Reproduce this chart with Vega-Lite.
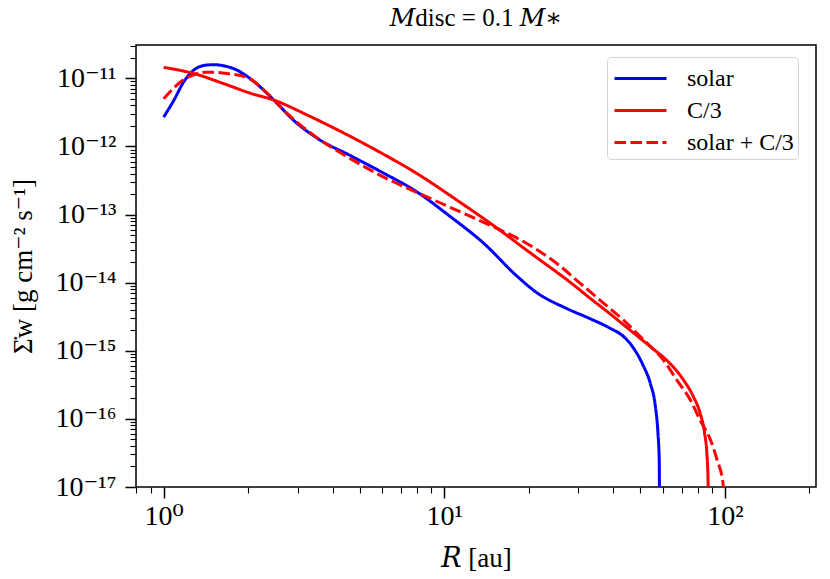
{
  "$schema": "https://vega.github.io/schema/vega-lite/v6.json",
  "autosize": "none",
  "width": 680,
  "height": 442,
  "padding": {"left": 136, "top": 45, "right": 14, "bottom": 92},
  "background": "white",
  "title": {
    "text": "𝑀disc = 0.1 𝑀∗",
    "font": "Liberation Serif, DejaVu Serif",
    "fontSize": 25,
    "fontWeight": "normal",
    "color": "black",
    "anchor": "middle",
    "frame": "group",
    "baseline": "alphabetic",
    "offset": 0,
    "dy": 19
  },
  "config": {
    "view": {"stroke": "black", "strokeWidth": 1.5},
    "axis": {
      "labelFont": "Liberation Serif, DejaVu Serif",
      "titleFont": "Liberation Serif, DejaVu Serif",
      "labelColor": "black",
      "titleColor": "black",
      "titleFontWeight": "normal",
      "grid": false,
      "domain": false,
      "tickColor": "black",
      "labelOverlap": false,
      "labelFlush": false,
      "labelBound": false
    }
  },
  "data": {
    "values": [
      {"series": "solar", "R": 1.0, "logS": -11.57},
      {"series": "solar", "R": 1.088, "logS": -11.32},
      {"series": "solar", "R": 1.18, "logS": -11.05},
      {"series": "solar", "R": 1.28, "logS": -10.88},
      {"series": "solar", "R": 1.4, "logS": -10.81},
      {"series": "solar", "R": 1.51, "logS": -10.8},
      {"series": "solar", "R": 1.65, "logS": -10.82},
      {"series": "solar", "R": 1.78, "logS": -10.86},
      {"series": "solar", "R": 2.1, "logS": -11.05},
      {"series": "solar", "R": 2.47, "logS": -11.32},
      {"series": "solar", "R": 2.91, "logS": -11.62},
      {"series": "solar", "R": 3.62, "logS": -11.91},
      {"series": "solar", "R": 4.55, "logS": -12.12},
      {"series": "solar", "R": 6.0, "logS": -12.38},
      {"series": "solar", "R": 8.0, "logS": -12.67},
      {"series": "solar", "R": 10.5, "logS": -13.03},
      {"series": "solar", "R": 13.8, "logS": -13.42},
      {"series": "solar", "R": 18.1, "logS": -13.9},
      {"series": "solar", "R": 21.4, "logS": -14.15},
      {"series": "solar", "R": 27.3, "logS": -14.38},
      {"series": "solar", "R": 33.1, "logS": -14.53},
      {"series": "solar", "R": 39.0, "logS": -14.67},
      {"series": "solar", "R": 43.5, "logS": -14.79},
      {"series": "solar", "R": 47.2, "logS": -14.96},
      {"series": "solar", "R": 51.3, "logS": -15.23},
      {"series": "solar", "R": 54.2, "logS": -15.48},
      {"series": "solar", "R": 56.5, "logS": -15.82},
      {"series": "solar", "R": 57.7, "logS": -16.21},
      {"series": "solar", "R": 58.3, "logS": -16.6},
      {"series": "solar", "R": 58.45, "logS": -17.3},
      {"series": "C/3", "R": 1.0, "logS": -10.84},
      {"series": "C/3", "R": 1.28, "logS": -10.93},
      {"series": "C/3", "R": 1.64, "logS": -11.08},
      {"series": "C/3", "R": 2.04, "logS": -11.22},
      {"series": "C/3", "R": 2.47, "logS": -11.32},
      {"series": "C/3", "R": 3.25, "logS": -11.54},
      {"series": "C/3", "R": 4.27, "logS": -11.78},
      {"series": "C/3", "R": 5.92, "logS": -12.09},
      {"series": "C/3", "R": 8.0, "logS": -12.4},
      {"series": "C/3", "R": 11.1, "logS": -12.79},
      {"series": "C/3", "R": 14.6, "logS": -13.13},
      {"series": "C/3", "R": 20.2, "logS": -13.56},
      {"series": "C/3", "R": 28.8, "logS": -14.03},
      {"series": "C/3", "R": 33.1, "logS": -14.23},
      {"series": "C/3", "R": 39.0, "logS": -14.46},
      {"series": "C/3", "R": 46.0, "logS": -14.7},
      {"series": "C/3", "R": 54.2, "logS": -14.94},
      {"series": "C/3", "R": 63.8, "logS": -15.19},
      {"series": "C/3", "R": 71.2, "logS": -15.43},
      {"series": "C/3", "R": 77.3, "logS": -15.68},
      {"series": "C/3", "R": 81.6, "logS": -15.92},
      {"series": "C/3", "R": 84.6, "logS": -16.21},
      {"series": "C/3", "R": 86.2, "logS": -16.51},
      {"series": "C/3", "R": 86.9, "logS": -16.8},
      {"series": "C/3", "R": 87.4, "logS": -17.3},
      {"series": "solar + C/3", "R": 1.0, "logS": -11.3},
      {"series": "solar + C/3", "R": 1.18, "logS": -11.02},
      {"series": "solar + C/3", "R": 1.43, "logS": -10.91},
      {"series": "solar + C/3", "R": 1.68, "logS": -10.93},
      {"series": "solar + C/3", "R": 1.99, "logS": -10.99},
      {"series": "solar + C/3", "R": 2.34, "logS": -11.22},
      {"series": "solar + C/3", "R": 2.76, "logS": -11.52},
      {"series": "solar + C/3", "R": 3.43, "logS": -11.84},
      {"series": "solar + C/3", "R": 4.5, "logS": -12.15},
      {"series": "solar + C/3", "R": 6.08, "logS": -12.45},
      {"series": "solar + C/3", "R": 8.44, "logS": -12.72},
      {"series": "solar + C/3", "R": 11.1, "logS": -12.94},
      {"series": "solar + C/3", "R": 14.6, "logS": -13.16},
      {"series": "solar + C/3", "R": 19.2, "logS": -13.4},
      {"series": "solar + C/3", "R": 25.2, "logS": -13.72},
      {"series": "solar + C/3", "R": 30.5, "logS": -14.01},
      {"series": "solar + C/3", "R": 36.9, "logS": -14.3},
      {"series": "solar + C/3", "R": 43.5, "logS": -14.55},
      {"series": "solar + C/3", "R": 51.3, "logS": -14.84},
      {"series": "solar + C/3", "R": 60.4, "logS": -15.14},
      {"series": "solar + C/3", "R": 67.4, "logS": -15.43},
      {"series": "solar + C/3", "R": 75.2, "logS": -15.72},
      {"series": "solar + C/3", "R": 81.6, "logS": -16.02},
      {"series": "solar + C/3", "R": 88.8, "logS": -16.31},
      {"series": "solar + C/3", "R": 93.7, "logS": -16.6},
      {"series": "solar + C/3", "R": 98.4, "logS": -16.95},
      {"series": "solar + C/3", "R": 99.5, "logS": -17.3}
    ]
  },
  "transform": [
    {"calculate": "pow(10, datum.logS)", "as": "S"}
  ],
  "mark": {"type": "line", "strokeWidth": 3, "clip": true, "interpolate": "monotone"},
  "encoding": {
    "x": {
      "field": "R",
      "type": "quantitative",
      "scale": {"type": "log", "domain": [0.797, 211], "nice": false},
      "axis": {
        "title": "𝑅 [au]",
        "titleFontSize": 27,
        "titlePadding": 15,
        "labelFontSize": 28,
        "labelPadding": 4,
        "values": [0.8, 0.9, 1, 2, 3, 4, 5, 6, 7, 8, 9, 10, 20, 30, 40, 50, 60, 70, 80, 90, 100, 200],
        "labelExpr": "abs(log(datum.value)/LN10 - round(log(datum.value)/LN10)) < 0.001 ? '10' + replace(replace(replace(replace(replace(replace(replace(replace(replace(replace(replace('' + round(log(datum.value)/LN10), '-', '⁻'), regexp('1', 'g'), '¹'), regexp('0', 'g'), '⁰'), '2', '²'), '3', '³'), '4', '⁴'), '5', '⁵'), '6', '⁶'), '7', '⁷'), '8', '⁸'), '9', '⁹') : ''",
        "tickSize": {"condition": {"test": "abs(log(datum.value)/LN10 - round(log(datum.value)/LN10)) < 0.001", "value": 11}, "value": 6},
        "tickWidth": {"condition": {"test": "abs(log(datum.value)/LN10 - round(log(datum.value)/LN10)) < 0.001", "value": 1.5}, "value": 1.1}
      }
    },
    "y": {
      "field": "S",
      "type": "quantitative",
      "scale": {"type": "log", "domain": [1e-17, 3.08e-11], "nice": false},
      "axis": {
        "title": "Σ̇w [g cm⁻² s⁻¹]",
        "titleFontSize": 27,
        "titlePadding": 18,
        "labelFontSize": 28,
        "labelPadding": 9,
        "values": [1e-17, 2e-17, 3e-17, 4e-17, 5e-17, 6e-17, 7e-17, 8e-17, 9e-17,
                   1e-16, 2e-16, 3e-16, 4e-16, 5e-16, 6e-16, 7e-16, 8e-16, 9e-16,
                   1e-15, 2e-15, 3e-15, 4e-15, 5e-15, 6e-15, 7e-15, 8e-15, 9e-15,
                   1e-14, 2e-14, 3e-14, 4e-14, 5e-14, 6e-14, 7e-14, 8e-14, 9e-14,
                   1e-13, 2e-13, 3e-13, 4e-13, 5e-13, 6e-13, 7e-13, 8e-13, 9e-13,
                   1e-12, 2e-12, 3e-12, 4e-12, 5e-12, 6e-12, 7e-12, 8e-12, 9e-12,
                   1e-11, 2e-11, 3e-11],
        "labelExpr": "abs(log(datum.value)/LN10 - round(log(datum.value)/LN10)) < 0.001 ? '10' + replace(replace(replace(replace(replace(replace(replace(replace(replace(replace(replace('' + round(log(datum.value)/LN10), '-', '⁻'), regexp('1', 'g'), '¹'), regexp('0', 'g'), '⁰'), '2', '²'), '3', '³'), '4', '⁴'), '5', '⁵'), '6', '⁶'), '7', '⁷'), '8', '⁸'), '9', '⁹') : ''",
        "tickSize": {"condition": {"test": "abs(log(datum.value)/LN10 - round(log(datum.value)/LN10)) < 0.001", "value": 11}, "value": 6},
        "tickWidth": {"condition": {"test": "abs(log(datum.value)/LN10 - round(log(datum.value)/LN10)) < 0.001", "value": 1.5}, "value": 1.1}
      }
    },
    "color": {
      "field": "series",
      "type": "nominal",
      "scale": {"domain": ["solar", "C/3", "solar + C/3"], "range": ["#0000ff", "#ff0000", "#ff0000"]},
      "legend": {
        "title": null,
        "orient": "none",
        "legendX": 471,
        "legendY": 12,
        "padding": 4,
        "rowPadding": 2,
        "labelFont": "Liberation Serif",
        "labelFontSize": 24,
        "labelColor": "black",
        "labelOffset": 29,
        "symbolType": "M-1.625,0H1.625",
        "symbolSize": 1024,
        "symbolOffset": 12,
        "symbolStrokeWidth": 3,
        "strokeColor": "#d4d4d4",
        "fillColor": "rgba(255,255,255,0.8)",
        "cornerRadius": 4
      }
    },
    "strokeDash": {
      "field": "series",
      "type": "nominal",
      "scale": {"domain": ["solar", "C/3", "solar + C/3"], "range": [[1, 0], [1, 0], [11.5, 4.5]]},
      "legend": {
        "title": null,
        "orient": "none",
        "legendX": 471,
        "legendY": 12,
        "padding": 4,
        "rowPadding": 2,
        "labelFont": "Liberation Serif",
        "labelFontSize": 24,
        "labelColor": "black",
        "labelOffset": 29,
        "symbolType": "M-1.625,0H1.625",
        "symbolSize": 1024,
        "symbolOffset": 12,
        "symbolStrokeWidth": 3,
        "strokeColor": "#d4d4d4",
        "fillColor": "rgba(255,255,255,0.8)",
        "cornerRadius": 4
      }
    }
  }
}
